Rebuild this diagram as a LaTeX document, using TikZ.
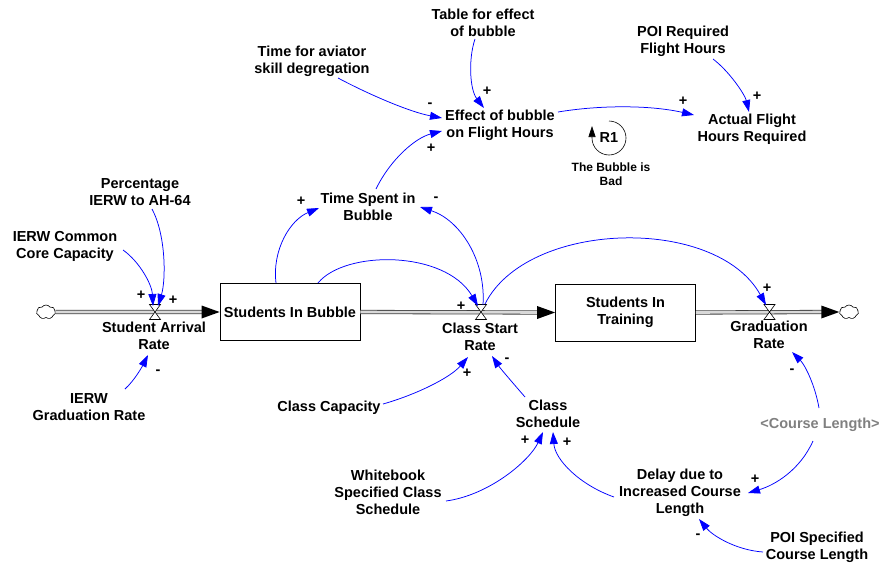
\documentclass[tikz,border=0pt]{standalone}
\usepackage{fontspec}
\setmainfont{Liberation Sans}
\usetikzlibrary{arrows.meta,shapes.symbols}
\newcommand\varfont{\fontsize{14.5}{17}\selectfont\bfseries}
\newcommand\signfont{\fontsize{14.5}{14}\selectfont\bfseries}
\newcommand\loopfont{\fontsize{12}{14}\selectfont\bfseries}

\begin{document}
\begin{tikzpicture}[x=1pt,y=-1pt,
  var/.style={font=\varfont, align=center, inner sep=0pt},
  shadowvar/.style={var, text=black!50},
  stock/.style={draw, line width=0.8pt, fill=white, minimum width=140pt,
    minimum height=57pt, inner sep=0pt, font=\varfont, align=center},
  sign/.style={font=\signfont, inner sep=0pt, text height=7pt, text depth=0pt},
  link/.style={draw=blue, line width=0.75pt, -{Triangle[length=12pt,width=8pt]}},
  pipe/.style={draw=black!75, line width=0.8pt, double=gray!30, double distance=2.6pt},
  sourcesink/.style={cloud, cloud puffs=7, cloud puff arc=110, draw, line width=0.6pt,
    minimum width=19pt, minimum height=14pt, inner sep=0pt, aspect=1.4},
  valve/.pic={\draw[fill=white, line width=0.6pt]
    (-5.5,-7.5) -- (5.5,-7.5) -- (-5.5,7.5) -- (5.5,7.5) -- cycle;}
]
\useasboundingbox (0,0) rectangle (881,565);

% stocks, sources and valves
\node[sourcesink] (cloudL) at (46,312) {};
\node[sourcesink] (cloudR) at (849,312) {};
\node[stock] (sib) at (290,312) {Students In Bubble};
\node[stock] (sit) at (625.5,312.5) {Students In\\Training};
\node[coordinate] (arrV) at (155,312) {};
\node[coordinate] (csV) at (481,312) {};
\node[coordinate] (grV) at (769.5,312) {};

% flow labels
\node[var] (arrL) at (154,336) {Student Arrival\\Rate};
\node[var] (csL) at (480,337) {Class Start\\Rate};
\node[var] (grL) at (769,335) {Graduation\\Rate};

% auxiliaries
\node[var] (pct) at (140,192) {Percentage\\IERW to AH-64};
\node[var] (ccc) at (65,246) {IERW Common\\Core Capacity};
\node[var] (igr) at (89,407) {IERW\\Graduation Rate};
\node[var] (tsb) at (368,207) {Time Spent in\\Bubble};
\node[var] (eff) at (500,125) {Effect of bubble\\on Flight Hours};
\node[var] (tfa) at (312,61) {Time for aviator\\skill degregation};
\node[var] (tab) at (483,23) {Table for effect\\of bubble};
\node[var] (poi) at (683,41) {POI Required\\Flight Hours};
\node[var] (act) at (752,129) {Actual Flight\\Hours Required};
\node[var] (cc) at (329,408) {Class Capacity};
\node[var] (cls) at (548,414) {Class\\Schedule};
\node[var] (wb) at (388,492) {Whitebook\\Specified Class\\Schedule};
\node[shadowvar] (cl) at (820,425) {<Course Length>};
\node[var] (dly) at (680,493) {Delay due to\\Increased Course\\Length};
\node[var] (poiS) at (817,547) {POI Specified\\Course Length};

% pipes
\draw[pipe] (cloudL.east) -- ([shift={(-15,0)}]sib.west);
\fill ([shift={(-18,-6.5)}]sib.west) -- (sib.west) -- ([shift={(-18,6.5)}]sib.west) -- cycle;
\draw[pipe] (sib.east) -- ([shift={(-15,0)}]sit.west);
\fill ([shift={(-18,-6.5)}]sit.west) -- (sit.west) -- ([shift={(-18,6.5)}]sit.west) -- cycle;
\draw[pipe] (sit.east) -- ([shift={(-15,0)}]cloudR.west);
\fill ([shift={(-18,-6.5)}]cloudR.west) -- (cloudR.west) -- ([shift={(-18,6.5)}]cloudR.west) -- cycle;
\pic at (arrV) {valve};
\pic at (csV) {valve};
\pic at (grV) {valve};

% causal links
\draw[link] ([shift={(58,4)}]ccc.center) .. controls +(17,12) and +(-1,-21) .. ([shift={(-2,-6)}]arrV);
\draw[link] ([shift={(12,17)}]pct.center) .. controls +(14,26) and +(8,-26) .. ([shift={(3,-6)}]arrV);
\draw[link] ([shift={(36,-18)}]igr.center) .. controls +(10,-9) and +(-5,10) .. ([shift={(-6,19)}]arrL.center);
\draw[link] ([shift={(-14,-29)}]sib.center) .. controls +(-4,-33) and +(-29,12) .. ([shift={(-49,1)}]tsb.center);
\draw[link] ([shift={(28,-29)}]sib.center) .. controls +(27,-33) and +(-33,-56) .. ([shift={(-3,-6)}]csV);
\draw[link] ([shift={(2,-7)}]csV) .. controls +(3,-45) and +(40,13) .. ([shift={(52,0)}]tsb.center);
\draw[link] ([shift={(8,-18)}]tsb.center) .. controls +(14,-29) and +(-27,7) .. ([shift={(-58,6)}]eff.center);
\draw[link] ([shift={(26,17)}]tfa.center) .. controls +(32,17) and +(-32,-6) .. ([shift={(-58,-7)}]eff.center);
\draw[link] ([shift={(-8,16)}]tab.center) .. controls +(-7,21) and +(-14,-18) .. ([shift={(-16,-17)}]eff.center);
\draw[link] ([shift={(58,-13)}]eff.center) .. controls +(42,-7) and +(-44,-10) .. ([shift={(-58,-14)}]act.center);
\draw[link] ([shift={(30,18)}]poi.center) .. controls +(17,13) and +(-4,-17) .. ([shift={(-3,-17)}]act.center);
\draw[link] ([shift={(4,-8)}]csV) .. controls +(42,-84) and +(-50,-90) .. ([shift={(-3.5,-7)}]grV);
\draw[link] ([shift={(54,-4)}]cc.center) .. controls +(32,-9) and +(-18,21) .. ([shift={(-12,20)}]csL.center);
\draw[link] ([shift={(-23,-17)}]cls.center) .. controls +(-13,-15) and +(8,12) .. ([shift={(12,19)}]csL.center);
\draw[link] ([shift={(58,9)}]wb.center) .. controls +(44,-6) and +(-13,28) .. ([shift={(-5,18)}]cls.center);
\draw[link] ([shift={(-66,4)}]dly.center) .. controls +(-34,-12) and +(2,28) .. ([shift={(5,18)}]cls.center);
\draw[link] ([shift={(-1,-17)}]cl.center) .. controls +(-4,-23) and +(13,13) .. ([shift={(23,17)}]grL.center);
\draw[link] ([shift={(-7,16)}]cl.center) .. controls +(-13,29) and +(27,-8) .. ([shift={(68,0)}]dly.center);
\draw[link] ([shift={(-54,5)}]poiS.center) .. controls +(-28,-2) and +(13,16) .. ([shift={(19,26)}]dly.center);

% link polarities
\node[sign] (p1) at (141,296) {+};
\node[sign] (p2) at (173,301) {+};
\node[sign] (p3) at (158,371) {-};
\node[sign] (p4) at (301,202) {+};
\node[sign] (p5) at (461,307) {+};
\node[sign] (p6) at (436,198) {-};
\node[sign] (p7) at (431,149) {+};
\node[sign] (p8) at (430,104) {-};
\node[sign] (p9) at (487,92) {+};
\node[sign] (p10) at (683,102) {+};
\node[sign] (p11) at (757,97) {+};
\node[sign] (p12) at (767,289) {+};
\node[sign] (p13) at (467,374) {+};
\node[sign] (p14) at (507,359) {-};
\node[sign] (p15) at (525,441) {+};
\node[sign] (p16) at (567,443) {+};
\node[sign] (p17) at (792,370) {-};
\node[sign] (p18) at (755,480) {+};
\node[sign] (p19) at (698,535) {-};

% reinforcing loop marker
\node[font=\varfont, inner sep=0pt] (r1) at (609,138) {R1};
\draw[line width=0.6pt, -{Triangle[length=11pt,width=7pt]}]
  ([shift={(0,-17)}]r1.center) arc[start angle=-90, end angle=180, radius=17] -- ++(0,-12);
\node[font=\loopfont, align=center, inner sep=0pt] (bub) at (611,174) {The Bubble is\\Bad};
\end{tikzpicture}
\end{document}
